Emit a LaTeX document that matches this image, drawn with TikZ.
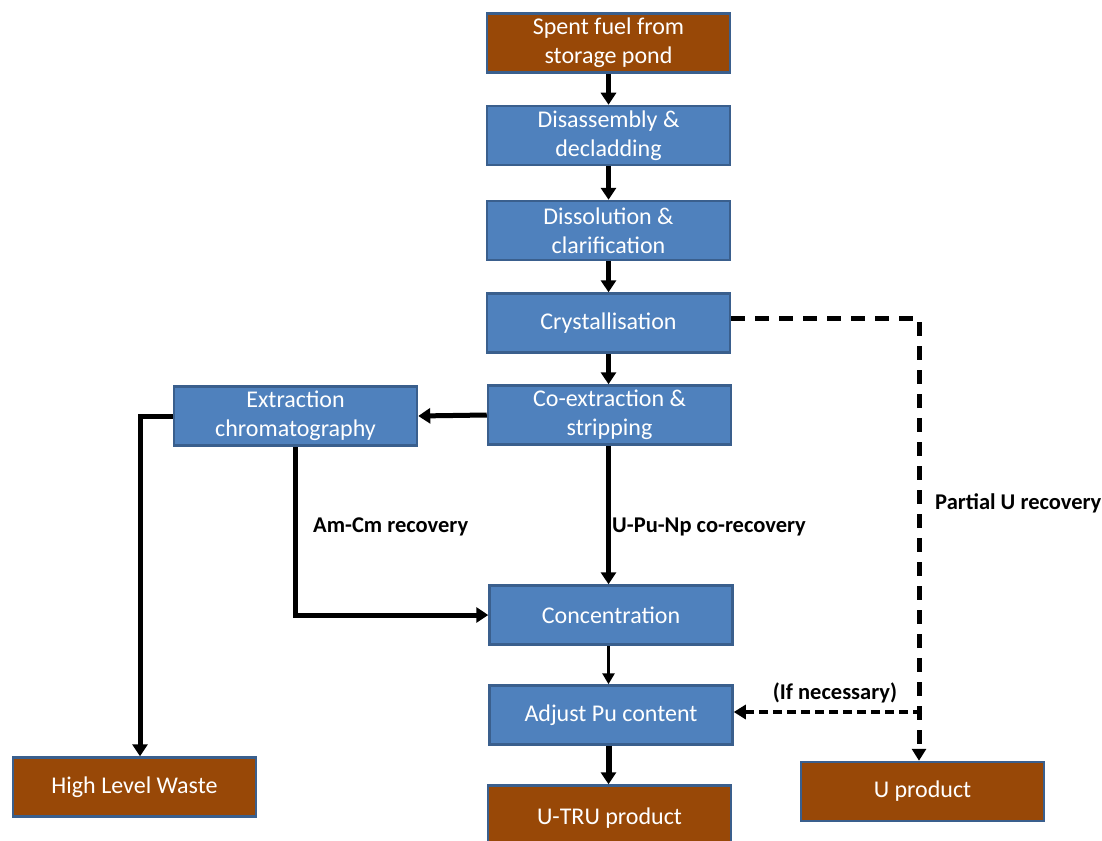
\documentclass[tikz,border=0pt]{standalone}
\usepackage{fontspec}
\setmainfont{Carlito}
\usetikzlibrary{arrows.meta}
\definecolor{boxblue}{HTML}{4F81BD}
\definecolor{boxbrown}{HTML}{984807}
\definecolor{edgeblue}{HTML}{3A5F8D}
\begin{document}
\begin{tikzpicture}[x=1pt,y=-1pt,
  box/.style={draw=edgeblue, line width=2.5pt, minimum width=243pt, minimum height=59pt, text=white, font=\fontsize{24}{29}\selectfont, align=center, inner sep=0pt},
  proc/.style={box, fill=boxblue},
  prod/.style={box, fill=boxbrown},
  flow/.style={line width=5pt, -{Triangle[length=12pt,width=15pt]}},
  thinflow/.style={line width=3pt, -{Triangle[length=11pt,width=12pt]}},
  dashflow/.style={line width=5pt, dash pattern=on 14pt off 10pt, -{Triangle[length=12pt,width=14pt]}},
  thindash/.style={line width=3.5pt, dash pattern=on 9pt off 5pt, -{Triangle[length=12pt,width=14pt]}},
  lbl/.style={font=\bfseries\fontsize{22.5}{26}\selectfont, inner sep=0pt}
]
\useasboundingbox (0,0) rectangle (1102,840);
\node[prod] (spent) at (608.5,43) {Spent fuel from\\storage pond};
\node[proc] (dis) at (608.5,135.5) {Disassembly \&\\decladding};
\node[proc] (diss) at (608.5,230.5) {Dissolution \&\\clarification};
\node[proc] (cry) at (608.5,323) {Crystallisation};
\node[proc] (coex) at (609.5,415) {Co-extraction \&\\stripping};
\node[proc] (exch) at (295.5,416) {Extraction\\chromatography};
\node[proc] (conc) at (611,615) {Concentration};
\node[proc] (adj) at (611,715) {Adjust Pu content};
\node[prod, minimum height=66pt] (utru) at (609.5,818.5) {U-TRU product};
\node[prod] (hlw) at (134.5,787) {High Level Waste};
\node[prod] (uprod) at (922.5,791.5) {U product};

\coordinate (hlwin) at ([xshift=5.5pt]hlw.north);
\coordinate (turn) at (919,318);
\coordinate (branch) at (922,712);

\draw[flow] (spent.south) -- (dis.north);
\draw[flow] (dis.south) -- (diss.north);
\draw[flow] (diss.south) -- (cry.north);
\draw[flow] (cry.south) -- (cry.south |- coex.north);
\draw[flow] (coex.west) -- (exch.east);
\draw[flow] (coex.south -| cry.south) -- (cry.south |- conc.north);
\draw[flow] (exch.west) -| (hlwin);
\draw[flow] (exch.south) -- (exch.south |- conc.west) -- (conc.west);
\draw[thinflow] (conc.south -| cry.south) -- (cry.south |- adj.north);
\draw[flow, line width=6pt] (adj.south -| cry.south) -- (cry.south |- utru.north);

\draw[dashflow] (cry.east |- turn) -- (turn) -- (turn |- uprod.north);
\draw[thindash] (branch) -- (adj.east |- branch);

\node[lbl, anchor=west] (amcm) at (313,527) {Am-Cm recovery};
\node[lbl, anchor=west] (upunp) at (612,527) {U-Pu-Np co-recovery};
\node[lbl, anchor=west] (partu) at (935,503) {Partial U recovery};
\node[lbl] (ifnec) at (835,693) {(If necessary)};
\end{tikzpicture}
\end{document}
